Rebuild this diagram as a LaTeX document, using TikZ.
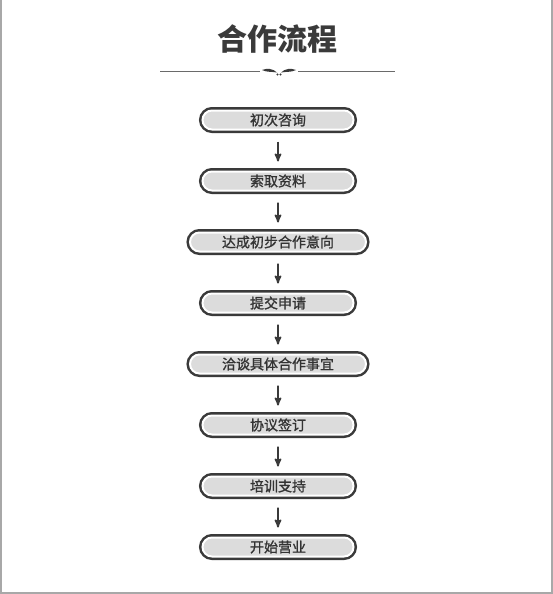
\documentclass[tikz,border=0pt]{standalone}
\usepackage{fontspec}
\usepackage{tikz}
\usetikzlibrary{arrows}
\newfontfamily\cjk{Noto Sans CJK SC}
\newfontfamily\cjkbox[FakeBold=1.2]{Noto Sans CJK SC}
\definecolor{darkline}{HTML}{3A3A3A}
\definecolor{boxgray}{HTML}{DCDCDC}
\definecolor{textgray}{HTML}{333333}
\definecolor{bordergray}{HTML}{A8A8A8}
\definecolor{rulegray}{HTML}{6A6A6A}
\tikzset{
  flow node/.style={rectangle,rounded corners=9.5pt,fill=boxgray,draw=white,line width=2pt,
    preaction={draw=darkline,line width=7pt},minimum width=151pt,minimum height=19pt,
    inner sep=0pt,text=textgray,font=\cjkbox\fontsize{14}{14}\selectfont},
  wide node/.style={flow node,minimum width=176pt},
  title/.style={font=\cjk\bfseries\fontsize{30}{30}\selectfont,text=darkline}
}
\begin{document}
\begin{tikzpicture}[->,>=stealth',
  level/.style={level distance=61pt},
  edge from parent/.style={draw=darkline,line width=1.7pt,shorten <=11pt,shorten >=9pt}]
  \useasboundingbox (0,0) rectangle (553pt,-594pt);
  \draw[-,bordergray,line width=2pt] (1pt,0) -- (1pt,-593pt) -- (552pt,-593pt) -- (552pt,0);
  % title and rule
  \node[title] (t) at (277pt,-39pt) {合作流程};
  \draw[-,rulegray,line width=0.8pt] (160pt,-71pt) -- (260pt,-71pt);
  \draw[-,rulegray,line width=0.8pt] (298pt,-71pt) -- (395pt,-71pt);
  \fill[darkline] (262pt,-70pt) .. controls (267pt,-68pt) and (273pt,-68.5pt) .. (277pt,-72.5pt)
    .. controls (272pt,-71.5pt) and (267pt,-72.5pt) .. (262pt,-70pt);
  \fill[darkline] (296pt,-70pt) .. controls (291pt,-68pt) and (285pt,-68.5pt) .. (281pt,-72.5pt)
    .. controls (286pt,-71.5pt) and (291pt,-72.5pt) .. (296pt,-70pt);
  \fill[darkline] (277.5pt,-74.5pt) circle (1.1pt) (280.5pt,-74.5pt) circle (1.1pt);
  % steps
  \node [flow node] (1) at (278pt,-120pt) {初次咨询}
    child {node [flow node] (2) {索取资料}
      child {node [wide node] (3) {达成初步合作意向}
        child {node [flow node] (4) {提交申请}
          child {node [wide node] (5) {洽谈具体合作事宜}
            child {node [flow node] (6) {协议签订}
              child {node [flow node] (7) {培训支持}
                child {node [flow node] (8) {开始营业}}
              }
            }
          }
        }
      }
    };
\end{tikzpicture}
\end{document}
